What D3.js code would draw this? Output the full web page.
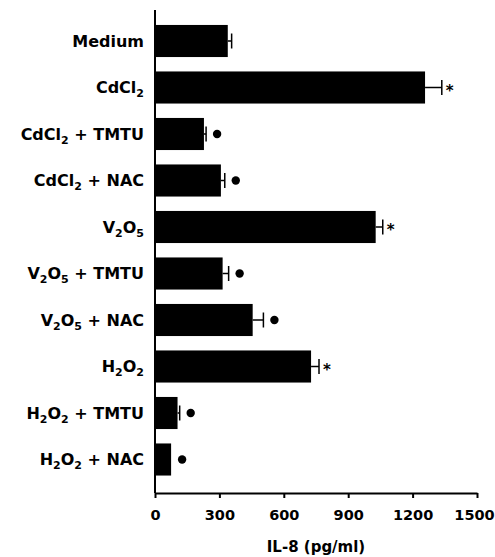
<!DOCTYPE html>
<html lang="en">
<head>
<meta charset="UTF-8">
<title>IL-8</title>
<script src="https://d3js.org/d3.v7.min.js"></script>
<style>
    body { margin: 0; background: #fff; }
    text { font-family: "DejaVu Sans", Verdana, sans-serif; font-weight: bold; fill: #000; }
</style>
</head>
<body>
<div id="chart"></div>
<script>
    // categories, "_2" means subscript 2
    const categories = ["Medium", "CdCl_2", "CdCl_2 + TMTU", "CdCl_2 + NAC", "V_2O_5",
        "V_2O_5 + TMTU", "V_2O_5 + NAC", "H_2O_2", "H_2O_2 + TMTU", "H_2O_2 + NAC"];
    const values = [339, 1258, 228, 307, 1028, 315, 455, 727, 105, 75];
    const errors = [18, 78, 10, 18, 33, 28, 50, 37, 10, 0];
    const markers = ["none", "star", "dot", "dot", "star", "dot", "dot", "star", "dot", "dot"];
    const xTicks = [0, 300, 600, 900, 1200, 1500];
    const xTitle = "IL-8 (pg/ml)";

    const W = 495, H = 557;
    const x0 = 155, x1 = 477, axisY = 493;

    const svg = d3.select("#chart").append("svg")
        .attr("width", W).attr("height", H);

    const x = d3.scaleLinear().domain([0, 1500]).range([x0, x1]);
    const y = d3.scaleBand().domain(categories)
        .range([17.75, 482.75])
        .paddingInner(0.31).paddingOuter(0.155);

    const data = categories.map((c, i) => ({ c, v: values[i], e: errors[i], m: markers[i] }));
    const mid = d => y(d.c) + y.bandwidth() / 2;

    // bars
    svg.selectAll(".bar").data(data).enter().append("rect")
        .attr("class", "bar")
        .attr("x", x(0))
        .attr("y", d => y(d.c))
        .attr("width", d => x(d.v) - x(0))
        .attr("height", y.bandwidth())
        .attr("fill", "#000");

    // error bars
    const eb = svg.selectAll(".err").data(data.filter(d => d.e > 0)).enter().append("g");
    eb.append("line")
        .attr("x1", d => x(d.v)).attr("x2", d => x(d.v + d.e))
        .attr("y1", mid).attr("y2", mid)
        .attr("stroke", "#000").attr("stroke-width", 1.5);
    eb.append("line")
        .attr("x1", d => x(d.v + d.e)).attr("x2", d => x(d.v + d.e))
        .attr("y1", d => mid(d) - 7.5).attr("y2", d => mid(d) + 7.5)
        .attr("stroke", "#000").attr("stroke-width", 1.5);

    // significance markers
    svg.selectAll(".dot").data(data.filter(d => d.m === "dot")).enter().append("circle")
        .attr("cx", d => x(d.v + d.e) + 11)
        .attr("cy", mid)
        .attr("r", 4.2)
        .attr("fill", "#000");
    svg.selectAll(".star").data(data.filter(d => d.m === "star")).enter().append("text")
        .attr("x", d => x(d.v + d.e) + 4)
        .attr("y", d => mid(d) + 8)
        .attr("font-size", 15)
        .text("*");

    // category labels with subscripts
    svg.selectAll(".lab").data(categories).enter().append("text")
        .attr("x", 144)
        .attr("y", d => y(d) + y.bandwidth() / 2 + 5.5)
        .attr("text-anchor", "end")
        .attr("font-size", 16)
        .each(function(d) {
            const t = d3.select(this);
            const parts = d.split(/(_\d)/).filter(p => p !== "");
            let shift = 0;
            parts.forEach(p => {
                if (p[0] === "_") {
                    t.append("tspan").attr("font-size", 11).attr("dy", 4 - shift).text(p.slice(1));
                    shift = 4;
                } else {
                    t.append("tspan").attr("dy", -shift).text(p);
                    shift = 0;
                }
            });
        });

    // axes
    svg.append("line")
        .attr("x1", x0).attr("x2", x0).attr("y1", 10).attr("y2", axisY)
        .attr("stroke", "#000").attr("stroke-width", 2);

    const xAxis = svg.append("g")
        .attr("transform", `translate(0,${axisY})`)
        .call(d3.axisBottom(x).tickValues(xTicks).tickFormat(d3.format("d"))
            .tickSize(5).tickSizeOuter(0).tickPadding(12));
    xAxis.select(".domain").attr("stroke-width", 2);
    xAxis.selectAll(".tick line").attr("stroke-width", 2);
    xAxis.selectAll("text")
        .attr("font-size", 14.5)
        .attr("font-family", "'DejaVu Sans', sans-serif")
        .attr("font-weight", "bold")
        .attr("dx", d => d === 1500 ? -3 : 0);

    svg.append("text")
        .attr("x", (x0 + x1) / 2)
        .attr("y", 552)
        .attr("text-anchor", "middle")
        .attr("font-size", 15)
        .text(xTitle);
</script>
</body>
</html>
